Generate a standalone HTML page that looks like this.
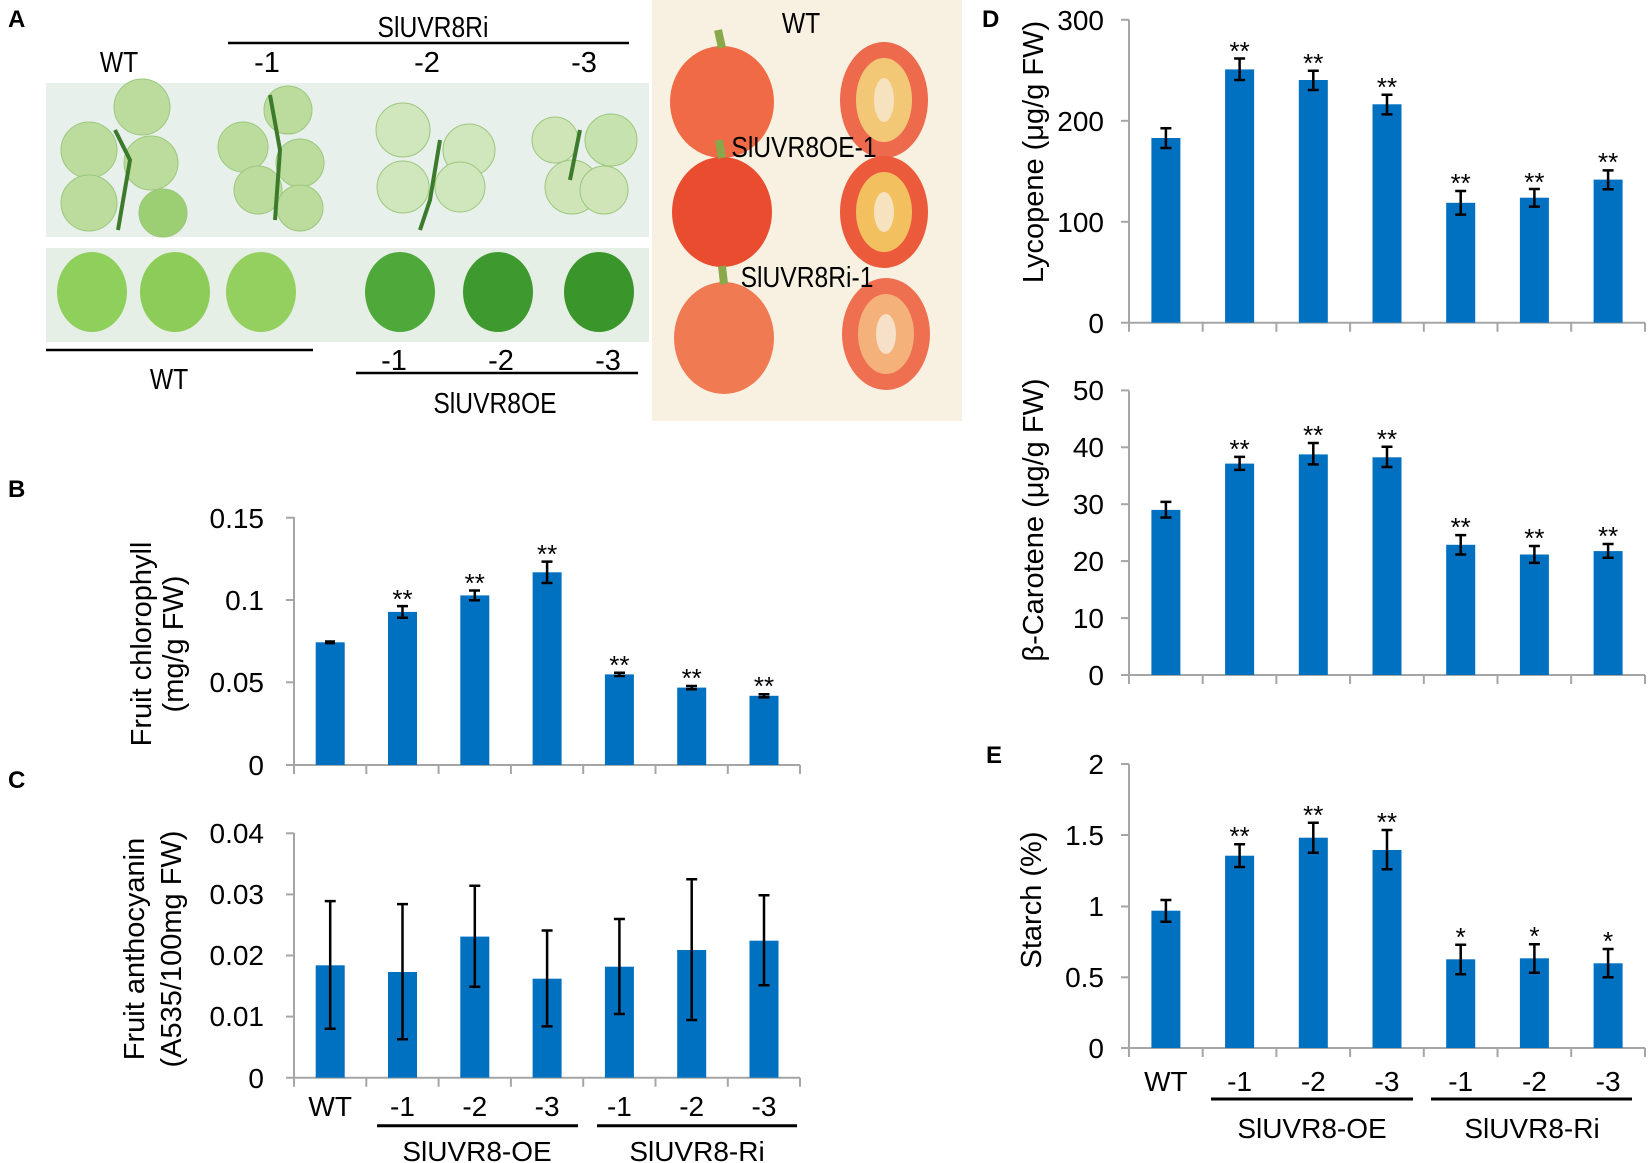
<!DOCTYPE html>
<html><head><meta charset="utf-8"><style>
html,body{margin:0;padding:0;background:#fff}
svg{display:block}
text{font-family:"Liberation Sans",sans-serif;fill:#000}
</style></head><body>
<svg width="1650" height="1163" viewBox="0 0 1650 1163" xmlns="http://www.w3.org/2000/svg">
<rect x="46" y="83" width="603" height="154" fill="#e8f0ec"/>
<rect x="46" y="248" width="603" height="94" fill="#e6efe6"/>
<rect x="652" y="0" width="310" height="421" fill="#f8f1e2"/>
<g fill="#bcdc9e" stroke="#9cc77c" stroke-width="1">
<circle cx="142" cy="107" r="28"/><circle cx="89" cy="150" r="28"/><circle cx="151" cy="163" r="27"/><circle cx="89" cy="203" r="28"/><circle cx="163" cy="213" r="24" fill="#9ccf74"/>
<circle cx="288" cy="110" r="24"/><circle cx="243" cy="147" r="25"/><circle cx="300" cy="163" r="24"/><circle cx="258" cy="190" r="24"/><circle cx="300" cy="208" r="23"/>
<circle cx="403" cy="130" r="27" fill="#d0e6bc"/><circle cx="469" cy="150" r="26" fill="#d0e6bc"/><circle cx="403" cy="187" r="26" fill="#d0e6bc"/><circle cx="460" cy="187" r="25" fill="#d0e6bc"/>
<circle cx="555" cy="140" r="23" fill="#cfe5b8"/><circle cx="611" cy="140" r="26" fill="#c6e2ae"/><circle cx="572" cy="187" r="27" fill="#cfe5b8"/><circle cx="604" cy="190" r="24" fill="#cfe5b8"/>
</g>
<path d="M115 130 L130 160 L118 230 M270 95 L280 150 L275 220 M440 140 L430 200 L420 230 M580 130 L570 180" stroke="#3c7a2c" stroke-width="4" fill="none"/>
<g>
<ellipse cx="92" cy="292" rx="35" ry="40" fill="#8fcf5c"/><ellipse cx="175" cy="292" rx="35" ry="40" fill="#8ccc58"/><ellipse cx="261" cy="292" rx="35" ry="40" fill="#93d060"/>
<ellipse cx="400" cy="292" rx="35" ry="40" fill="#4fa83a"/><ellipse cx="498" cy="292" rx="35" ry="40" fill="#3e9a2e"/><ellipse cx="599" cy="292" rx="35" ry="40" fill="#3a962b"/>
</g>
<g>
<ellipse cx="722" cy="102" rx="52" ry="56" fill="#ef6a45"/><ellipse cx="884" cy="100" rx="44" ry="58" fill="#ee6a4c"/><ellipse cx="884" cy="100" rx="28" ry="42" fill="#f2c877"/><ellipse cx="884" cy="100" rx="10" ry="22" fill="#f7e2c0"/>
<ellipse cx="722" cy="212" rx="50" ry="55" fill="#ea4c30"/><ellipse cx="884" cy="212" rx="44" ry="56" fill="#ec5a3c"/><ellipse cx="884" cy="212" rx="28" ry="40" fill="#f3c060"/><ellipse cx="884" cy="212" rx="10" ry="20" fill="#f7e2c0"/>
<ellipse cx="724" cy="338" rx="50" ry="56" fill="#f07a52"/><ellipse cx="886" cy="334" rx="44" ry="56" fill="#ef7050"/><ellipse cx="886" cy="334" rx="28" ry="40" fill="#f4b27a"/><ellipse cx="886" cy="334" rx="10" ry="20" fill="#f7e0c8"/>
</g>
<path d="M722 48 l-4 -18 M722 158 l-3 -18 M724 284 l-2 -18" stroke="#8aa84a" stroke-width="8"/>
<g font-size="29" text-anchor="middle">
<text x="119" y="72" transform="translate(119 0) scale(0.85 1) translate(-119 0)">WT</text>
<text x="433" y="37" transform="translate(433 0) scale(0.85 1) translate(-433 0)">SlUVR8Ri</text>
<text x="267" y="72">-1</text><text x="427" y="72">-2</text><text x="584" y="72">-3</text>
<text x="169" y="389" transform="translate(169 0) scale(0.85 1) translate(-169 0)">WT</text>
<text x="394" y="370">-1</text><text x="501" y="370">-2</text><text x="608" y="370">-3</text>
<text x="495" y="413" transform="translate(495 0) scale(0.85 1) translate(-495 0)">SlUVR8OE</text>
<text x="801" y="33" transform="translate(801 0) scale(0.85 1) translate(-801 0)">WT</text>
<text x="804" y="157" transform="translate(804 0) scale(0.85 1) translate(-804 0)">SlUVR8OE-1</text>
<text x="807" y="287" transform="translate(807 0) scale(0.85 1) translate(-807 0)">SlUVR8Ri-1</text>
</g>
<g stroke="#000" stroke-width="2.5">
<line x1="228" y1="43" x2="629" y2="43"/><line x1="46" y1="350" x2="313" y2="350"/><line x1="356" y1="373" x2="638" y2="373"/>
</g>
<g font-size="24" font-weight="bold">
<text x="8" y="27">A</text><text x="8" y="497">B</text><text x="8" y="788">C</text><text x="982" y="27">D</text><text x="986" y="763">E</text>
</g>

<g stroke="#a6a6a6" stroke-width="2" fill="none">
<line x1="294" y1="517" x2="294" y2="765"/>
<line x1="286" y1="517.7" x2="294" y2="517.7"/><line x1="286" y1="600" x2="294" y2="600"/><line x1="286" y1="682.3" x2="294" y2="682.3"/><line x1="286" y1="765" x2="800" y2="765"/>
<path d="M294 765v9M366.3 765v9M438.6 765v9M510.9 765v9M583.2 765v9M655.5 765v9M727.8 765v9M800 765v9"/>
<line x1="294" y1="833" x2="294" y2="1077.7"/>
<line x1="286" y1="833.3" x2="294" y2="833.3"/><line x1="286" y1="894.4" x2="294" y2="894.4"/><line x1="286" y1="955.5" x2="294" y2="955.5"/><line x1="286" y1="1016.6" x2="294" y2="1016.6"/><line x1="286" y1="1077.7" x2="800" y2="1077.7"/>
<path d="M294 1077.7v9M366.3 1077.7v9M438.6 1077.7v9M510.9 1077.7v9M583.2 1077.7v9M655.5 1077.7v9M727.8 1077.7v9M800 1077.7v9"/>
<line x1="1129" y1="19.8" x2="1129" y2="322.7"/>
<line x1="1121" y1="19.8" x2="1129" y2="19.8"/><line x1="1121" y1="120.8" x2="1129" y2="120.8"/><line x1="1121" y1="221.8" x2="1129" y2="221.8"/><line x1="1121" y1="322.7" x2="1645" y2="322.7"/>
<path d="M1129 322.7v9M1202.7 322.7v9M1276.4 322.7v9M1350.1 322.7v9M1423.8 322.7v9M1497.5 322.7v9M1571.2 322.7v9M1645 322.7v9"/>
<line x1="1129" y1="390.4" x2="1129" y2="675"/>
<line x1="1121" y1="390.4" x2="1129" y2="390.4"/><line x1="1121" y1="447.3" x2="1129" y2="447.3"/><line x1="1121" y1="504.2" x2="1129" y2="504.2"/><line x1="1121" y1="561.1" x2="1129" y2="561.1"/><line x1="1121" y1="618.1" x2="1129" y2="618.1"/><line x1="1121" y1="675" x2="1645" y2="675"/>
<path d="M1129 675v9M1202.7 675v9M1276.4 675v9M1350.1 675v9M1423.8 675v9M1497.5 675v9M1571.2 675v9M1645 675v9"/>
<line x1="1129" y1="764" x2="1129" y2="1048"/>
<line x1="1121" y1="764" x2="1129" y2="764"/><line x1="1121" y1="835" x2="1129" y2="835"/><line x1="1121" y1="906.5" x2="1129" y2="906.5"/><line x1="1121" y1="977.3" x2="1129" y2="977.3"/><line x1="1121" y1="1048" x2="1645" y2="1048"/>
<path d="M1129 1048v9M1202.7 1048v9M1276.4 1048v9M1350.1 1048v9M1423.8 1048v9M1497.5 1048v9M1571.2 1048v9M1645 1048v9"/>
</g>

<g font-size="28" text-anchor="end">
<text x="264" y="528">0.15</text><text x="264" y="610">0.1</text><text x="264" y="692">0.05</text><text x="264" y="775">0</text>
<text x="264" y="843">0.04</text><text x="264" y="904">0.03</text><text x="264" y="965">0.02</text><text x="264" y="1026">0.01</text><text x="264" y="1088">0</text>
<text x="1104" y="30">300</text><text x="1104" y="131">200</text><text x="1104" y="232">100</text><text x="1104" y="333">0</text>
<text x="1104" y="400">50</text><text x="1104" y="457">40</text><text x="1104" y="514">30</text><text x="1104" y="571">20</text><text x="1104" y="628">10</text><text x="1104" y="685">0</text>
<text x="1104" y="774">2</text><text x="1104" y="845">1.5</text><text x="1104" y="916">1</text><text x="1104" y="987">0.5</text><text x="1104" y="1058">0</text>
</g>

<g font-size="29" text-anchor="middle">
<text transform="translate(151 644) rotate(-90)">Fruit chlorophyll</text>
<text transform="translate(183 644) rotate(-90)">(mg/g FW)</text>
<text transform="translate(144 949) rotate(-90)">Fruit anthocyanin</text>
<text transform="translate(181 949) rotate(-90)">(A535/100mg FW)</text>
<text transform="translate(1043 152) rotate(-90)">Lycopene (μg/g FW)</text>
<text transform="translate(1043 520) rotate(-90)">β-Carotene (μg/g FW)</text>
<text transform="translate(1041 900) rotate(-90)">Starch (%)</text>
</g>

<g fill="#0070c0">
<rect x="315.7" y="642.3" width="29" height="122.7"/><rect x="388" y="611.9" width="29" height="153.1"/><rect x="460.3" y="595.4" width="29" height="169.6"/><rect x="532.6" y="572.3" width="29" height="192.7"/><rect x="604.9" y="674.4" width="29" height="90.6"/><rect x="677.2" y="687.6" width="29" height="77.4"/><rect x="749.5" y="695.8" width="29" height="69.2"/>
<rect x="315.7" y="965.3" width="29" height="112.4"/><rect x="388" y="972" width="29" height="105.7"/><rect x="460.3" y="936.6" width="29" height="141.1"/><rect x="532.6" y="978.7" width="29" height="99"/><rect x="604.9" y="966.7" width="29" height="111"/><rect x="677.2" y="950" width="29" height="127.7"/><rect x="749.5" y="940.7" width="29" height="137"/>
<rect x="1151.4" y="138" width="29" height="184.7"/><rect x="1225.1" y="69.4" width="29" height="253.3"/><rect x="1298.8" y="80" width="29" height="242.7"/><rect x="1372.5" y="104.3" width="29" height="218.4"/><rect x="1446.2" y="202.8" width="29" height="119.9"/><rect x="1519.9" y="197.7" width="29" height="125"/><rect x="1593.6" y="179.6" width="29" height="143.1"/>
<rect x="1151.4" y="509.9" width="29" height="165.1"/><rect x="1225.1" y="463.6" width="29" height="211.4"/><rect x="1298.8" y="454.4" width="29" height="220.6"/><rect x="1372.5" y="457.3" width="29" height="217.7"/><rect x="1446.2" y="544.8" width="29" height="130.2"/><rect x="1519.9" y="554.5" width="29" height="120.5"/><rect x="1593.6" y="551.1" width="29" height="123.9"/>
<rect x="1151.4" y="910.7" width="29" height="137.3"/><rect x="1225.1" y="855.7" width="29" height="192.3"/><rect x="1298.8" y="837.7" width="29" height="210.3"/><rect x="1372.5" y="850" width="29" height="198"/><rect x="1446.2" y="959.3" width="29" height="88.7"/><rect x="1519.9" y="958.3" width="29" height="89.7"/><rect x="1593.6" y="963.3" width="29" height="84.7"/>
</g>

<g stroke="#000" stroke-width="2.5" fill="none">
<path d="M330.2 641.5V643.1M325 641.5h10M325 643.1h10"/>
<path d="M402.5 606.1V617.7M397 606.1h11M397 617.7h11"/>
<path d="M474.8 590.5V600.3M469 590.5h11M469 600.3h11"/>
<path d="M547.1 561.6V583M541.5 561.6h11M541.5 583h11"/>
<path d="M619.4 672.8V676M614 672.8h11M614 676h11"/>
<path d="M691.7 686V689.2M686 686h11M686 689.2h11"/>
<path d="M764 694.2V697.4M758.5 694.2h11M758.5 697.4h11"/>
<path d="M330.2 901.1V1028.8M324.7 901.1h11M324.7 1028.8h11"/>
<path d="M402.5 904.1V1039.2M397 904.1h11M397 1039.2h11"/>
<path d="M474.8 885.8V986.7M469.3 885.8h11M469.3 986.7h11"/>
<path d="M547.1 930.5V1026.4M541.6 930.5h11M541.6 1026.4h11"/>
<path d="M619.4 919V1014M613.9 919h11M613.9 1014h11"/>
<path d="M691.7 879.3V1020M686.2 879.3h11M686.2 1020h11"/>
<path d="M764 895.3V985.3M758.5 895.3h11M758.5 985.3h11"/>
<path d="M1165.9 128.3V148M1160.4 128.3h11M1160.4 148h11"/>
<path d="M1239.6 58.5V80M1234.1 58.5h11M1234.1 80h11"/>
<path d="M1313.3 70.7V90M1307.8 70.7h11M1307.8 90h11"/>
<path d="M1387 94.7V114.4M1381.5 94.7h11M1381.5 114.4h11"/>
<path d="M1460.7 191V214.6M1455.2 191h11M1455.2 214.6h11"/>
<path d="M1534.4 189V206.6M1528.9 189h11M1528.9 206.6h11"/>
<path d="M1608.1 170.4V189.3M1602.6 170.4h11M1602.6 189.3h11"/>
<path d="M1165.9 501.9V517.5M1160.4 501.9h11M1160.4 517.5h11"/>
<path d="M1239.6 456.9V469.9M1234.1 456.9h11M1234.1 469.9h11"/>
<path d="M1313.3 443V464.4M1307.8 443h11M1307.8 464.4h11"/>
<path d="M1387 446.8V467M1381.5 446.8h11M1381.5 467h11"/>
<path d="M1460.7 535.1V554.5M1455.2 535.1h11M1455.2 554.5h11"/>
<path d="M1534.4 546V562.9M1528.9 546h11M1528.9 562.9h11"/>
<path d="M1608.1 544V557.8M1602.6 544h11M1602.6 557.8h11"/>
<path d="M1165.9 900V921.7M1160.4 900h11M1160.4 921.7h11"/>
<path d="M1239.6 844.3V867M1234.1 844.3h11M1234.1 867h11"/>
<path d="M1313.3 822.7V852.7M1307.8 822.7h11M1307.8 852.7h11"/>
<path d="M1387 830V869.3M1381.5 830h11M1381.5 869.3h11"/>
<path d="M1460.7 944.7V974.3M1455.2 944.7h11M1455.2 974.3h11"/>
<path d="M1534.4 944.3V972.7M1528.9 944.3h11M1528.9 972.7h11"/>
<path d="M1608.1 949V977.3M1602.6 949h11M1602.6 977.3h11"/>
</g>

<g font-size="26" text-anchor="middle">
<text x="402.5" y="608">**</text><text x="474.8" y="592">**</text><text x="547.1" y="563">**</text><text x="619.4" y="674">**</text><text x="691.7" y="687">**</text><text x="764" y="695">**</text>
<text x="1239.6" y="60">**</text><text x="1313.3" y="72">**</text><text x="1387" y="96">**</text><text x="1460.7" y="192">**</text><text x="1534.4" y="191">**</text><text x="1608.1" y="171">**</text>
<text x="1239.6" y="458">**</text><text x="1313.3" y="444">**</text><text x="1387" y="448">**</text><text x="1460.7" y="536">**</text><text x="1534.4" y="547">**</text><text x="1608.1" y="545">**</text>
<text x="1239.6" y="845">**</text><text x="1313.3" y="824">**</text><text x="1387" y="831">**</text><text x="1460.7" y="946">*</text><text x="1534.4" y="945">*</text><text x="1608.1" y="950">*</text>
</g>

<g font-size="28" text-anchor="middle">
<text x="330.2" y="1116">WT</text><text x="402.5" y="1116">-1</text><text x="474.8" y="1116">-2</text><text x="547.1" y="1116">-3</text><text x="619.4" y="1116">-1</text><text x="691.7" y="1116">-2</text><text x="764" y="1116">-3</text>
<text x="477" y="1161">SlUVR8-OE</text><text x="697" y="1161">SlUVR8-Ri</text>
<text x="1165.9" y="1091">WT</text><text x="1239.6" y="1091">-1</text><text x="1313.3" y="1091">-2</text><text x="1387" y="1091">-3</text><text x="1460.7" y="1091">-1</text><text x="1534.4" y="1091">-2</text><text x="1608.1" y="1091">-3</text>
<text x="1312" y="1138">SlUVR8-OE</text><text x="1532" y="1138">SlUVR8-Ri</text>
</g>
<g stroke="#000" stroke-width="3">
<line x1="377" y1="1125.7" x2="578" y2="1125.7"/><line x1="597" y1="1125.7" x2="797" y2="1125.7"/>
<line x1="1211" y1="1099" x2="1413" y2="1099"/><line x1="1431" y1="1099" x2="1632" y2="1099"/>
</g>
</svg>
</body></html>
